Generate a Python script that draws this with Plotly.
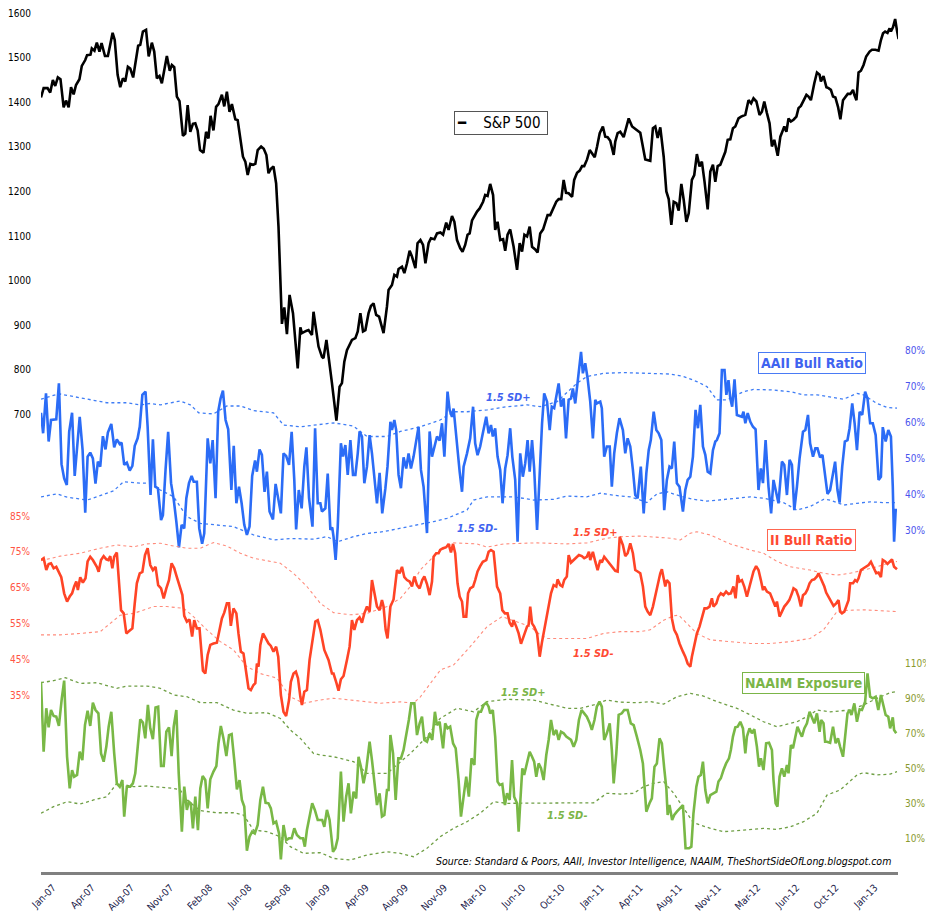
import pandas as pd
import plotly.graph_objects as go

# ---------------- data ----------------
# x offsets are in "picture weeks" (2.633 px each); they are converted
# to calendar dates with the true chart scale (2.609 px per week) in to_dates().
BASE = "2007-01-05"
PICTURE_WEEK_PX = 2.633
TRUE_WEEK_PX = 2.609

SP500 = [(0,1411),(1,1432),(2.5,1432),(3.5,1422),(4.5,1450),(5.4,1437),(6.4,1456),(7.4,1452),(8.6,1389),(9.5,1404),(10.5,1389),(11.4,1434),(12.4,1418),(13.3,1439),(14.6,1452),(15.5,1482),(16.8,1495),(17.5,1506),(18.8,1507),(19.3,1521),(20.3,1516),(21.2,1534),(22.2,1514),(23,1533),(24.3,1504),(25.4,1504),(27.2,1556),(28,1540),(29.1,1462),(30.1,1434),(31.1,1454),(32,1447),(33,1480),(33.9,1476),(35,1456),(35.8,1489),(36.9,1527),(37.7,1529),(38.7,1559),(39.9,1563),(40.9,1503),(42.1,1534),(43,1514),(44,1454),(45,1459),(45.9,1443),(47.2,1491),(47.8,1504),(48.9,1471),(49.7,1484),(50.6,1479),(51.6,1413),(52.6,1403),(53.9,1325),(54.8,1330),(55.7,1394),(56.7,1334),(57.7,1352),(58.6,1353),(59.5,1337),(60.4,1293),(61.7,1287),(62.7,1334),(63.6,1319),(64.4,1370),(65.5,1337),(66.5,1390),(67.4,1396),(68.7,1417),(69.6,1391),(70.6,1424),(71.6,1379),(72.5,1396),(73.8,1362),(74.7,1360),(75.7,1323),(76.7,1278),(77.6,1267),(78.5,1237),(79.5,1262),(80.5,1260),(81.4,1262),(82.3,1293),(83.6,1301),(84.6,1296),(85.6,1282),(86.4,1241),(87.3,1251),(88.3,1256),(89.3,1218),(90.2,1121),(91.5,903),(92.4,940),(93.4,880),(94.4,968),(95.7,927),(96.6,867),(97.5,803),(98.5,895),
         (99.1,882),(100.7,887),(101.6,889),(102.9,878),(103.5,930),(105.4,852),(106.7,829),(107.3,826),(108.4,867),(110.5,770),(112.2,686),(113.4,762),(114.3,770),(115.2,818),(116.2,844),(118.1,867),(119.4,871),(120.3,886),(121.3,927),(122.3,886),(123.2,889),(124.4,927),(125.3,943),(126.3,949),(127.3,923),(128.4,919),(130.1,882),(131.4,942),(132,979),(133.3,990),(134.2,1013),(135.2,1009),(135.8,1026),(137.1,1031),(138,1017),(139,1039),(140,1067),(140.9,1054),(142.2,1028),(143,1084),(144.1,1091),(145.1,1080),(146,1039),(147.2,1084),(148.1,1095),(149.4,1093),(150.4,1106),(151.7,1108),(152.7,1103),(153.9,1130),(154.8,1114),(156.1,1145),(157,1132),(158,1091),(159.2,1073),(160.1,1065),(161.1,1080),(162,1103),(162.8,1106),(163.7,1135),(164.6,1145),(165.6,1155),(166.6,1162),(167.9,1177),(168.7,1192),(169.6,1190),(170.6,1217),(171.7,1192),(172.5,1114),(173.4,1132),(174.4,1091),(175.5,1093),(176.3,1067),(177.2,1103),(178.2,1115),(179.5,1076),(180.8,1024),(181.8,1084),(182.7,1065),(183.6,1103),(184.6,1099),(185.6,1121),(186.5,1076),(187.7,1070),(188.6,1063),(189.6,1106),(190.7,1115),(191.5,1129),(192.4,1147),(193.4,1147),(194.5,1162),(195.7,1177),(196.6,1183),(197.6,1183),(198.5,1226),(199.4,1197),(200.4,1196),(201.7,1188),(202.5,1226),(203.6,1242),(204.6,1247),(205.5,1257),(206.3,1257),(207.4,1272),(208.4,1293),(209.3,1286),(210.3,1277),(211.2,1301),(212.2,1331),(213.4,1346),(214.3,1323),(215.2,1322),(216.2,1314),(217.5,1282),(218.1,1312),(219,1331),(220,1334),
         (221.3,1322),(223.2,1364),(224.5,1346),(227.6,1332),(229.5,1272),(231.4,1269),(232.4,1342),(233.3,1346),(234.2,1320),(235.2,1344),(236.5,1278),(237.5,1200),(238.4,1183),(239.4,1125),(240.3,1177),(241.3,1174),(242.2,1157),(243.2,1217),(244.1,1181),(245.1,1132),(246,1151),(247.2,1226),(248.1,1237),(249.1,1284),(250.1,1256),(251,1267),(252,1222),(253.2,1160),(254.2,1245),(255.2,1260),(256.1,1222),(257,1257),(258,1260),(259,1278),(259.9,1289),(260.8,1316),(261.8,1317),(262.8,1342),(263.7,1346),(264.9,1364),(265.9,1368),(267.5,1372),(268.7,1405),(269.7,1398),(270.6,1409),(271.7,1402),(272.9,1372),(273.8,1379),(274.7,1402),(275.7,1376),(276.7,1353),(277.6,1301),(278.5,1316),(279.8,1280),(280.8,1323),(281.8,1338),(282.3,1346),(283.1,1334),(283.9,1364),(284.8,1357),(285.8,1361),(286.9,1368),(287.7,1387),(288.6,1392),(289.6,1405),(290.7,1417),(291.5,1413),(292.4,1405),(293.7,1443),(294.7,1467),(295.7,1462),(296.2,1447),(297.2,1459),(298.3,1434),(299.1,1432),(300,1428),(300.8,1413),(301.7,1411),(302.7,1390),(303.6,1362),(304.6,1405),(305.5,1413),(306.4,1419),(307.4,1419),(308.4,1428),(308.9,1417),(309.7,1405),(310.5,1467),(311.4,1471),(312.4,1484),(313.4,1503),(314.7,1514),(315.6,1518),(316.9,1518),(318.1,1516),(319,1540),(319.8,1555),(320.6,1559),(321.5,1556),(322.3,1566),(322.8,1559),(323.6,1569),(324.4,1587),(325.1,1561),(325.7,1542)]

AAII = [(0,62.7),(0.8,57.0),(1.9,68.1),(2.9,54.7),(3.8,60.7),(4.8,60.9),(5.8,60.9),(6.8,70.9),(7.8,48.4),(8.8,44.4),(9.8,42.6),(10.7,57.4),(11.8,62.7),(12.8,45.1),(14.7,61.6),(15.8,52.3),(16.8,34.9),(17.7,50.5),(18.7,51.6),(19.7,50.0),(20.7,43.0),(21.6,49.1),(22.5,47.7),(23.5,56.2),(24.5,52.5),(25.4,57.2),(26.7,59.6),(27.8,53.1),(28.8,55.3),(29.9,54.0),(30.6,54.4),(31.6,48.2),(32.6,48.8),(33.7,46.6),(34.7,47.9),(35.6,53.5),(36.7,55.6),(37.5,58.8),(38.5,67.7),(39.7,68.6),(40.5,58.8),(41.6,39.8),(42.5,55.3),(43.4,42.1),(44.4,41.7),(45.6,32.8),(46.3,34.2),(47.3,46.8),(48.3,57.4),(49.4,43.1),(50.4,38.6),(51.4,32.4),(52.4,25.2),(53.4,31.5),(54.4,30.5),(55.2,38.9),(56.2,43.1),(57.2,45.1),(58,43.5),(59.2,43.5),(60.1,30.5),(61.2,26.2),(62,29.1),(63.3,55.6),(64.3,48.6),(65.2,55.1),(66.3,38.9),(67.3,63.0),(68.2,66.7),(69.1,68.9),(70.1,60.7),(71.1,58.1),(72.3,41.2),(73.2,53.5),(74.2,37.5),(75.2,42.1),(76.2,37.5),(77.2,31.5),(78.2,28.7),(79.2,31.0),(80.2,45.1),(81.3,49.4),(82,46.3),(83,52.5),(83.9,51.0),(84.9,40.7),(85.8,46.3),(86.8,35.2),(88.1,33.0),(89.1,42.9),(90.1,38.4),(91.1,34.7),(92.1,51.4),(93.1,50.7),(94.2,48.2),(95.2,57.4),(96.2,44.0),(96.9,30.2),(97.9,41.2),(99,36.1),(100,47.7),(100.8,53.1),(101.8,38.9),(103.1,31.0),(104.1,58.4),(105.1,37.5),(106.1,37.5),
        (106.7,35.2),(108,36.1),(108.9,45.8),(109.9,30.1),(110.6,30.8),(111.1,28.2),(111.9,21.7),(112.7,31.0),(113.9,54.2),(114.7,50.5),(115.6,53.7),(116.5,45.4),(117.5,55.1),(118.5,45.4),(119.4,45.4),(120.3,51.4),(121,57.5),(121.9,56.1),(122.8,43.1),(123.8,47.7),(124.8,56.5),(125.7,51.4),(126.6,44.5),(127.6,37.5),(128.6,46.0),(129.6,34.7),(130.8,41.7),(131.6,47.7),(132.7,60.2),(133.3,57.9),(134.2,60.7),(134.9,57.9),(135.8,45.4),(136.7,41.7),(137.7,50.3),(138.7,47.2),(139.6,51.4),(140.5,47.2),(141.5,50.5),(142.5,54.7),(143.4,58.8),(144.3,46.8),(145.3,42.1),(146.6,29.2),(147.6,57.5),(148.5,50.5),(149.4,53.3),(150.4,56.1),(151.4,55.0),(152.3,59.8),(153.2,50.5),(153.9,61.6),(154.4,68.6),(155.2,63.5),(156.1,61.6),(156.7,63.9),(158,53.3),(159,46.3),(159.9,40.7),(160.5,47.7),(161.8,51.4),(163,55.6),(164.1,64.4),(164.9,54.2),(165.8,50.9),(166.8,53.3),(167.8,57.0),(169.1,61.6),(170,57.0),(170.9,59.3),(171.6,56.1),(172.5,58.4),(173.4,50.5),(174.4,46.8),(175.3,37.5),(176.3,47.2),(177.2,50.9),(178.2,58.4),(179,50.5),(180.1,44.0),(181,26.8),(182,51.4),(183,44.9),(183.9,48.6),(184.8,55.1),(185.6,46.3),(186.5,55.1),(187.3,47.2),(188.4,30.1),(189.4,48.2),(190.3,59.8),(191.1,68.1),(192.2,65.8),(193.2,57.9),(194,64.4),(194.9,64.0),(195.7,67.2),(196.6,70.9),(197.5,64.4),(198.5,66.7),(199.4,55.6),(200.4,66.3),(201.3,66.7),(202,69.5),(202.9,65.3),(203.5,69.1),(204.2,72.8),(205.1,79.7),(205.8,73.7),(206.7,76.5),(207.6,72.3),(208.6,65.8),(209.6,55.6),(210.5,66.3),(211.1,65.3),(212.4,65.8),(213,64.0),(213.9,50.5),(214.9,53.3),(216,53.3),(216.8,42.1),(217.7,51.4),(218.7,57.0),(219.7,61.2),
        (221,57.9),(221.9,51.4),(222.8,55.6),(223.8,53.3),(224.8,46.8),(225.7,39.8),(226.6,38.9),(227.8,47.7),(228.9,34.7),(229.9,45.8),(230.8,52.3),(231.6,55.1),(232.7,63.0),(233.7,57.9),(234.6,57.0),(235.6,55.1),(236.7,35.6),(237.7,44.0),(238.7,47.7),(239.6,47.2),(240.5,54.7),(241.5,43.1),(242.5,42.1),(243.8,35.2),(244.7,41.2),(245.6,44.0),(246.6,44.9),(247.6,50.5),(248.6,63.5),(249.5,58.4),(250.4,64.9),(251.4,53.3),(252.3,51.0),(253.2,46.3),(254.2,45.8),(255.2,52.3),(256.1,54.7),(256.7,55.1),(257.7,57.0),(258.6,74.6),(259.6,74.6),(260.3,67.7),(261.1,71.8),(261.8,66.7),(262.5,64.4),(263.4,72.0),(264.3,62.1),(265.3,61.8),(266.2,61.6),(266.8,63.0),(267.5,59.8),(268.4,62.6),(269.4,60.2),(270.4,58.8),(271.4,58.1),(272.5,41.2),(273.4,47.2),(274.2,43.1),(275.2,55.1),(276.3,42.1),(277.3,34.7),(278.2,44.0),(279.2,40.3),(280.1,37.5),(281.4,49.1),(282.3,48.2),(283.3,39.8),(284.3,49.6),(285.2,48.2),(286.1,35.6),(287.1,42.1),(288.1,50.0),(289.4,57.4),(290.3,57.9),(291.3,62.1),(292.1,54.2),(293.2,50.5),(294.1,52.8),(294.9,52.8),(295.9,50.3),(296.8,51.0),(297.8,45.8),(298.7,40.1),(299.7,41.2),(300.8,45.8),(301.6,49.1),(302.5,41.2),(303.3,37.7),(304.3,47.7),(305.3,54.7),(306.3,55.1),(307.1,58.4),(308.1,65.3),(309,59.8),(309.9,52.3),(310.9,63.0),(311.9,62.1),(313,68.6),(313.9,66.7),(314.9,59.8),(315.9,59.8),(317,56.5),(318.1,44.0),(319,44.9),(319.7,58.7),(320.8,54.7),(321.8,57.9),(322.8,56.1),(323.5,42.1),(324,26.8),(324.6,35.6),(325.1,35.6)]

AAII_UPPER = [(0,66.5),(6.7,68.0),(11.1,67.4),(17.5,66.5),(25,65.5),(32.6,65.5),(37.7,64.9),(41.5,65.3),(45.3,64.9),(52.9,66.0),(56.7,64.9),(59.9,62.7),(65.5,62.4),(70.6,64.6),(75.7,64.6),(80.7,63.3),(88.3,62.7),(92.1,59.3),(98.5,58.8),(111.1,59.9),(118.7,59.0),(121.3,57.5),(123.8,56.1),(131.4,56.1),(136.5,57.5),(144.1,58.8),(151.6,60.7),(156.7,63.0),(161.8,63.0),(169.4,63.5),(177,64.4),(184.6,64.9),(189.6,64.4),(196,65.8),(203.5,70.9),(207.3,72.8),(213.7,73.7),(221.3,73.9),(228.9,73.7),(233.9,73.7),(239,73.5),(244.1,72.8),(249.1,71.4),(252.9,70.0),(256.7,66.3),(260.5,66.3),(266.8,68.6),(270.6,69.2),(277,69.1),(284.6,68.6),(289.6,67.7),(294.7,67.7),(299.7,67.2),(304.8,66.5),(309.9,68.1),(312.4,67.7),(317.5,65.3),(321.3,64.2),(325.1,64.0)]
AAII_LOWER = [(0,39.3),(6.1,40.1),(9.9,39.2),(17.5,38.4),(21.3,39.3),(27.6,41.0),(31.4,43.5),(37.7,43.1),(41.5,43.1),(45.3,41.2),(50.4,39.3),(55.4,33.8),(60.5,31.9),(65.5,31.5),(73.1,31.0),(80.7,28.7),(88.3,27.3),(94.7,27.7),(103.5,27.5),(108.6,28.2),(112.7,26.8),(118.7,28.2),(123.8,29.1),(130.1,29.6),(136.5,30.5),(144.1,31.5),(149.1,32.4),(154.2,33.3),(161.8,35.6),(164.3,38.4),(169.4,39.3),(179.5,39.3),(187.1,38.4),(194.7,38.6),(199.7,39.5),(207.3,39.3),(212.4,40.3),(220,39.5),(223.8,39.3),(227.6,38.4),(230.1,37.7),(233.9,40.1),(237.7,40.7),(242.8,39.5),(247.8,38.6),(252.9,38.1),(258,38.4),(264.3,38.9),(269.4,39.3),(274.4,38.9),(282,37.7),(287.1,35.6),(292.1,36.6),(297.2,38.6),(299.7,38.4),(304.8,37.0),(309.9,37.5),(314.9,37.9),(320,37.7),(325.1,37.7)]

II = [(0,72.7),(1,73.2),(2,69.9),(2.9,71.6),(3.8,71.8),(4.8,70.4),(5.8,70.8),(6.7,69.4),(7.7,67.9),(8.8,63.4),(9.9,61.1),(10.9,62.5),(11.8,63.4),(12.6,65.3),(13.4,66.7),(14,64.3),(14.9,67.9),(15.9,66.4),(16.9,67.6),(17.7,72.3),(18.7,73.6),(19.7,72.7),(21.2,70.8),(21.9,69.4),(22.8,72.7),(23.8,73.8),(24.8,72.9),(25.6,72.7),(26.3,73.8),(27.1,70.4),(27.8,73.6),(28.8,74.8),(29.5,67.1),(30.4,58.7),(31.4,57.8),(32.4,52.2),(33.7,53.0),(34.7,53.6),(35.6,60.6),(36.4,66.2),(37.5,69.0),(38.5,69.4),(39.5,74.1),(40.5,76.0),(41.5,71.3),(42.5,69.9),(43.5,70.8),(44.5,65.7),(45.6,64.8),(46.6,62.0),(47.6,64.8),(48.6,67.1),(49.6,71.8),(50.6,70.4),(51.6,67.9),(52.6,65.3),(53.7,62.9),(54.4,57.1),(55.4,55.5),(56.4,56.1),(57.4,51.3),(58.2,55.9),(59.2,53.6),(60.2,53.6),(61.5,41.8),(62.4,41.0),(63.3,46.2),(64.3,49.0),(65.5,49.4),(66.8,49.6),(67.8,53.2),(68.7,56.4),(69.6,58.0),(70.6,60.6),(71.4,60.6),(72.1,54.3),(73.1,59.2),(74.2,57.8),(75,52.2),(75.9,47.1),(76.9,46.6),(77.9,41.5),(78.8,36.9),(79.7,36.4),(80.7,37.8),(81.4,38.3),(82,43.8),(82.6,42.9),(83.3,49.0),(84.3,52.2),(85.3,50.8),(86.4,49.4),(87.3,48.7),(88.3,47.1),(89.3,48.5),(90.1,45.7),(91.1,35.0),(92.1,30.3),(93.1,29.1),(94.2,33.6),(94.9,38.7),(95.9,41.0),(96.8,41.5),(97.6,39.7),(98.5,34.5),(99.1,32.2),(100,35.9),(101,36.4),(102,44.8),(102.9,49.0),(104.2,55.5),(105.1,55.9),(106.1,53.2),
      (107.6,47.6),(109.2,44.8),(110.5,41.0),(111.1,41.0),(112.2,38.4),(113,36.2),(113.9,39.4),(114.9,40.3),(116.2,44.8),(117.2,48.5),(118.1,55.9),(119,53.2),(120,55.9),(121,56.7),(121.9,55.2),(122.8,57.8),(123.8,59.7),(124.8,58.3),(125.7,67.1),(126.6,63.9),(127.6,59.7),(128.6,58.7),(129.5,61.5),(130.1,59.7),(130.9,53.2),(131.6,50.8),(132.7,59.7),(133.9,61.7),(135.2,69.9),(136.2,69.0),(137.1,70.8),(138,67.9),(139,67.1),(140,66.7),(140.9,65.3),(141.8,68.1),(142.8,65.7),(143.8,64.8),(144.8,67.1),(145.6,68.1),(146.6,66.0),(147.6,62.9),(148.5,66.7),(149.1,73.6),(150.1,74.6),(151,74.6),(151.6,75.5),(152.7,76.0),(153.9,76.3),(154.8,77.2),(155.7,74.8),(156.5,77.2),(157.3,74.6),(158.2,66.2),(159,62.5),(159.9,61.1),(160.5,56.9),(161.5,56.9),(162.2,63.4),(163,64.8),(164.1,65.3),(164.9,67.1),(165.8,69.5),(166.8,71.0),(167.8,72.2),(169.1,72.7),(170,75.0),(170.9,75.5),(171.9,75.0),(173.2,65.3),(174.4,63.4),(175.2,58.7),(176.2,57.8),(177.2,57.8),(178,55.2),(178.9,54.1),(179.5,55.9),(180.5,54.1),(181.4,52.2),(182.3,49.3),(183,50.8),(183.9,52.2),(184.6,54.1),(185.2,54.6),(185.8,59.7),(186.5,55.0),(187.3,54.1),(188.4,52.2),(189.4,45.7),(190.3,49.9),(191.1,53.2),(192.2,57.8),(192.9,60.6),(193.7,63.4),(194.7,65.7),(195.7,65.3),(196.2,67.3),(197.2,65.7),(198,65.3),(198.7,67.1),(199.7,68.1),(200.4,74.1),(201.3,72.0),(202.3,72.7),(203.3,73.2),(204.3,74.1),(205.4,73.8),(206.3,73.2),(207.3,73.6),(208.1,75.0),(208.6,72.7),(209.6,75.0),(210.5,72.3),(211.4,69.9),(212.4,72.7),(213,72.0),(213.9,73.6),(214.9,72.7),(216,71.6),(217.2,70.4),(218.1,69.7),(219,69.5),(219.8,79.2),
      (221,76.9),(221.9,73.8),(222.8,74.6),(223.8,77.4),(224.8,74.6),(225.7,69.9),(226.6,69.5),(227.6,69.0),(228.6,65.3),(229.5,59.7),(230.4,58.3),(231.4,57.3),(232.4,59.7),(233.3,62.5),(234.2,66.2),(235.2,69.0),(235.8,70.1),(236.5,67.1),(237.1,65.3),(237.7,67.1),(238.7,66.2),(239.6,56.4),(240.5,53.2),(241.5,51.8),(242.5,49.4),(243.8,47.1),(244.7,45.7),(245.6,43.8),(246.6,42.9),(247.2,45.7),(248.1,49.0),(249.1,52.2),(250.1,54.1),(251,56.9),(252,59.2),(252.9,59.2),(253.9,59.7),(254.8,62.0),(255.4,59.7),(256.5,60.6),(257.3,62.5),(258.2,63.4),(259.2,62.9),(260.2,63.9),(261.1,63.2),(262,63.4),(263,65.3),(263.8,62.0),(264.6,68.5),(265.3,66.7),(266.2,67.1),(267.1,65.3),(268.1,62.5),(269.1,65.3),(270,68.1),(270.6,69.5),(271.6,71.0),(272.5,69.9),(273.4,67.1),(274.2,64.3),(274.7,65.3),(275.7,63.9),(276.9,63.4),(278,61.4),(278.9,59.7),(279.5,61.1),(280.5,56.9),(281.4,58.3),(282.3,59.7),(283.3,60.6),(284.2,61.5),(285.2,63.4),(285.8,64.8),(286.8,64.3),(287.7,62.5),(288.6,59.7),(289.4,62.9),(290.3,63.4),(291.1,64.5),(291.9,66.2),(292.8,67.1),(293.7,67.3),(294.7,68.1),(295.3,69.0),(295.9,68.1),(296.6,66.9),(297.5,65.3),(298.2,63.6),(299.1,62.5),(300,61.1),(301,59.9),(302,60.6),(302.9,61.5),(303.5,58.3),(304.2,57.8),(305.1,58.3),(305.8,59.7),(306.7,61.5),(307.3,66.2),(308.4,66.2),(309.2,67.1),(309.9,66.7),(310.5,67.6),(311.4,69.9),(312.4,70.4),(313.4,70.8),(314.3,71.3),(315.2,72.2),(316.2,70.8),(317.2,69.0),(318.1,69.2),(319,67.9),(319.7,72.7),(320.6,72.3),(321.5,71.6),(322.3,72.3),(323.2,72.9),(324,70.8),(325.1,70.1)]

II_UPPER = [(0,72.5),(7.3,73.8),(14.9,74.6),(22.5,76.0),(28.8,76.9),(35.2,76.4),(40.2,77.2),(45.3,77.4),(50.4,76.6),(55.4,76.0),(60.5,76.0),(65.5,77.6),(70.6,76.6),(75.7,74.6),(80.7,73.2),(85.8,72.5),(90.9,71.8),(95.9,69.0),(101,65.3),(106.1,60.6),(111.1,58.0),(117.5,57.4),(123.8,57.8),(131.4,59.7),(136.5,62.0),(140.5,65.5),(144.1,70.0),(150.4,74.6),(156.7,77.5),(165.6,77.2),(169.4,76.3),(175.7,77.2),(188.4,77.5),(199.8,77.2),(207.4,77.5),(215,78.8),(220,79.2),(227.6,79.4),(231.4,79.2),(239,78.8),(242.8,78.3),(246.6,80.2),(249.1,80.6),(254.2,79.7),(261.8,77.2),(269.4,75.5),(274.4,74.6),(279.5,72.3),(284.6,70.8),(292.1,69.9),(297.2,69.0),(302.3,68.5),(307.3,69.0),(312.4,69.9),(317.5,70.8),(322.5,72.0),(325.1,72.3)]
II_LOWER = [(0,51.8),(7.3,51.8),(14.9,52.2),(22.5,52.7),(30.1,57.3),(35.2,57.8),(42.8,59.7),(47.8,59.7),(54.2,59.2),(57.9,56.9),(63,53.2),(68.1,49.9),(73.1,47.6),(78.2,42.9),(83.3,41.0),(89.6,39.7),(94.7,34.5),(99.7,32.7),(106.1,33.6),(111.1,34.1),(123.8,33.1),(128.9,32.7),(136.5,33.1),(141.5,32.7),(144.1,34.5),(151.7,42.0),(156.7,43.4),(163,48.5),(169.4,54.1),(175.1,56.9),(178.9,55.9),(185.8,54.1),(189.6,51.8),(192.2,50.8),(197.2,50.8),(207.4,50.8),(213.7,52.2),(220,52.7),(227.6,52.7),(231.4,53.2),(236.5,55.9),(240.3,57.1),(242.2,57.3),(244.1,55.9),(249.1,52.2),(254.2,50.4),(261.8,49.9),(269.4,49.4),(277,49.4),(284.6,49.9),(292.1,50.8),(297.2,53.2),(302.3,58.3),(304.8,58.6),(312.4,58.8),(320,58.6),(325.1,58.3)]

NAAIM = [(0,99.5),(1,59.5),(2,84.3),(2.9,73.4),(3.8,83.3),(4.8,79.9),(5.8,79.5),(6.8,74.2),(7.9,90.0),(8.8,100.1),(9.9,56.6),(10.9,38.5),(11.8,49.0),(12.6,45.2),(13.7,46.2),(14.7,59.5),(15.7,54.7),(16.7,74.7),(17.7,82.9),(18.7,74.2),(19.7,87.5),(20.7,83.3),(21.8,81.4),(22.8,58.5),(23.8,53.8),(24.8,62.3),(25.7,73.8),(26.7,82.3),(27.8,58.5),(28.8,41.4),(29.9,39.5),(30.9,43.3),(31.6,22.4),(32.6,39.5),(33.9,39.5),(34.9,41.4),(35.8,47.1),(36.7,62.3),(37.7,78.0),(38.7,76.1),(39.6,67.1),(40.6,86.2),(41.5,72.8),(42.5,66.6),(43.5,84.8),(44.5,85.2),(45.6,51.3),(46.6,51.3),(47.6,70.9),(48.6,73.4),(49.6,57.0),(50.4,73.8),(51.4,83.3),(52.3,47.1),(53.5,13.8),(54.4,39.5),(55.4,26.2),(56.2,30.9),(56.9,30.0),(57.7,15.7),(58.6,33.8),(59.6,14.7),(60.5,38.5),(61.4,45.6),(62.4,43.3),(63.3,27.1),(64.3,43.7),(65.5,48.1),(66.6,51.3),(67.4,64.3),(68.3,74.2),(69.3,67.1),(70.4,57.0),(71.4,69.0),(72.4,69.6),(73.4,54.7),(74.4,38.0),(75.4,43.3),(76.3,31.9),(77.2,28.1),(78.2,2.9),(79.2,10.9),(80.2,13.8),(81.2,12.8),(82.3,17.6),(83.3,31.9),(84.3,39.5),(85.3,30.3),(86.4,30.0),(87.3,27.1),(88.3,18.5),(89.3,19.5),(90.4,12.8),(91.1,-2.0),(92.1,17.6),(93.1,9.0),(94.2,10.0),(95.2,10.0),(96.2,15.7),(97.2,11.9),(98.5,10.0),(99.5,10.0),(100.2,5.2),(101,14.7),(102,23.3),(103,30.0),(104,26.2),(105.1,20.5),(106.1,20.5),
         (106.8,20.5),(107.6,16.6),(108.6,26.2),(109.6,20.5),(110.9,2.3),(111.8,4.3),(112.7,10.0),(113.9,48.1),(114.9,19.5),(115.9,33.8),(116.8,41.4),(117.7,24.3),(118.7,36.6),(119.7,32.8),(120.6,56.6),(121.5,50.9),(122.5,41.4),(123.5,49.0),(124.8,65.2),(125.7,54.7),(126.6,40.5),(127.6,29.0),(128.6,35.7),(129.5,22.4),(130.4,23.3),(131.4,37.6),(132,37.6),(132.7,69.0),(133.7,58.5),(134.7,31.9),(135.7,55.7),(136.7,55.7),(137.7,60.5),(138.7,68.1),(139.7,77.6),(140.6,87.1),(141.8,87.1),(142.8,69.0),(143.8,75.7),(144.7,79.5),(145.6,66.2),(146.6,65.2),(147.6,70.0),(148.6,66.2),(149.6,82.3),(150.4,74.7),(151.4,76.6),(152.7,61.4),(153.5,75.7),(154.4,72.8),(155.4,73.8),(156.5,64.3),(157.5,61.4),(158.6,43.3),(159.5,22.4),(160.5,33.8),(161.5,45.2),(162.5,33.8),(163.5,55.7),(164.6,51.9),(165.3,77.6),(166.2,82.3),(167.1,82.3),(168.1,86.2),(169.1,87.5),(170,85.2),(170.6,81.4),(171.6,83.3),(172.5,68.1),(173.4,42.4),(174.2,40.5),(175.2,41.0),(176.2,29.0),(177,35.7),(178,31.9),(178.9,54.7),(179.7,33.8),(180.8,30.0),(181.4,13.8),(182,30.0),(182.8,50.0),(183.5,46.2),(184.6,52.8),(185.6,59.5),(186.5,56.6),(187.3,53.8),(188.1,45.2),(189,52.8),(189.9,50.0),(190.9,43.3),(191.9,57.6),(192.8,66.2),(193.7,77.6),(194.7,69.0),(195.7,71.9),(196.6,66.2),(197.5,70.9),(198.5,70.0),(199.5,68.1),(200.4,67.1),(201.3,66.2),(202.3,62.3),(203.3,66.2),(204.3,77.6),(205.3,83.3),(206.3,81.4),(207.3,79.5),(208.4,75.7),(209.2,71.9),(210.2,77.6),(211.1,85.2),(212.1,88.1),(213,85.2),(213.9,66.2),(214.9,70.0),(216,75.7),(216.8,60.5),(217.5,41.4),(218.5,58.5),(219.4,80.5),
         (220.6,81.4),(221.5,83.3),(222.8,83.3),(224,75.7),(225.1,74.7),(226.3,68.1),(227.6,60.5),(228.6,52.8),(229.9,25.2),(231.1,30.0),(232,32.8),(233,50.9),(233.9,52.8),(234.9,67.1),(235.8,64.3),(236.7,50.0),(237.5,38.5),(238,23.3),(238.7,29.0),(239.7,20.5),(240.5,23.3),(241.5,25.2),(242.8,27.1),(243.8,29.0),(244.8,4.3),(246.1,4.3),(247,5.2),(247.8,24.3),(248.9,39.5),(249.7,45.2),(250.6,46.2),(251.4,53.8),(252.3,37.6),(253.2,30.0),(254.2,34.7),(255.4,35.7),(256.5,36.6),(257.3,42.4),(258.2,44.3),(259.2,49.0),(260.2,52.8),(261.3,55.7),(262,60.5),(262.8,68.1),(263.7,73.4),(264.6,73.8),(265.6,76.6),(266.6,72.8),(267.5,58.5),(268.1,68.1),(269.1,72.8),(270,70.0),(270.9,72.3),(271.9,62.3),(272.7,50.9),(273.4,55.7),(274.4,49.0),(275.4,64.3),(276.5,64.6),(277.6,60.5),(278.2,43.3),(279,30.0),(279.7,28.1),(280.5,45.2),(281.4,50.0),(282.3,45.2),(283.3,51.9),(283.9,47.1),(284.8,63.3),(285.6,61.4),(286.5,69.0),(287.3,73.8),(288.1,70.9),(289,68.1),(289.9,72.8),(290.9,75.7),(291.9,82.3),(292.8,78.5),(293.7,75.7),(294.7,81.4),(295.7,70.9),(296.3,77.6),(297.2,75.7),(297.8,65.2),(298.5,65.2),(299.7,64.6),(300.8,73.8),(301.8,64.3),(302.7,67.1),(303.5,62.3),(304.6,56.6),(305.4,68.1),(306.3,81.4),(307.1,83.3),(307.8,80.5),(308.9,87.1),(309.9,76.6),(310.9,83.7),(311.8,83.3),(313,88.1),(313.9,104.3),(314.9,90.9),(315.9,90.0),(317,90.9),(318,83.3),(319,91.9),(319.7,88.1),(320.8,80.5),(321.8,79.5),(322.5,72.8),(323.5,79.1),(324,71.9),(324.8,70.0)]

NAAIM_UPPER = [(0,98.9),(4.8,100.1),(9.2,101.8),(14.9,98.5),(21.2,98.9),(28.8,95.7),(32.6,97.0),(40.2,97.0),(45.3,95.7),(50.4,91.9),(55.4,90.9),(60.5,87.5),(66.8,87.5),(73.1,83.3),(78.2,81.4),(85.8,81.8),(90.9,78.5),(94.7,71.9),(98.5,67.1),(103.5,58.5),(106.1,57.6),(111.1,56.6),(118.7,53.8),(123.8,47.1),(131.4,47.1),(135.2,51.9),(140.3,58.5),(146.6,68.1),(151.6,78.5),(158,84.3),(164.3,82.3),(169.4,88.1),(177,89.4),(187.1,89.0),(194.7,86.2),(199.7,84.3),(204.8,84.3),(209.9,86.2),(214.9,89.0),(220,87.8),(226.3,87.5),(231.4,88.1),(236.5,86.7),(241.5,90.9),(246.6,92.8),(251.6,91.3),(256.7,88.1),(264.3,84.3),(269.4,80.5),(274.4,76.6),(279.5,73.8),(287.1,76.6),(292.1,80.5),(294.7,83.3),(299.7,82.3),(307.3,83.3),(312.4,86.2),(317.5,90.0),(322.5,93.2),(325.1,93.8)]
NAAIM_LOWER = [(0,24.3),(4.8,28.1),(9.9,30.9),(14.9,29.6),(20,31.9),(25,33.8),(28.8,41.4),(35.2,39.5),(40.2,39.9),(45.3,39.1),(50.4,38.5),(52.9,37.6),(55.4,31.9),(60.5,25.8),(66.8,24.6),(73.1,24.6),(76.9,23.3),(80.7,14.7),(85.8,13.8),(90.9,10.9),(94.7,5.2),(99.7,1.4),(106.1,1.8),(111.1,-1.5),(117.5,-2.4),(123.8,0.5),(131.4,2.3),(136.5,1.4),(141.5,-0.5),(146.6,4.3),(151.6,10.9),(156.7,15.7),(161.8,19.5),(166.8,24.3),(171.9,30.9),(177,30.0),(182,30.0),(189.6,30.3),(199.7,30.0),(209.9,30.3),(214.9,35.7),(220,35.3),(225.1,35.7),(228.9,39.5),(232.7,41.4),(236.5,42.4),(240.3,35.7),(244.1,27.1),(247.8,18.9),(254.2,15.7),(259.2,13.8),(266.8,14.7),(274.4,15.7),(279.5,15.1),(284.6,16.6),(289.6,19.5),(294.7,24.3),(298.5,34.7),(303.5,37.6),(309.9,46.2),(312.4,47.5),(317.5,46.2),(322.5,46.7),(325.1,48.1)]

X_TICK_LABELS = ["Jan-07","Apr-07","Aug-07","Nov-07","Feb-08","Jun-08","Sep-08","Jan-09","Apr-09","Aug-09","Nov-09",
                 "Mar-10","Jun-10","Oct-10","Jan-11","Apr-11","Aug-11","Nov-11","Mar-12","Jun-12","Oct-12","Jan-13"]
TICK_EVERY_WEEKS = 15
SP_TICKS = [700, 800, 900, 1000, 1100, 1200, 1300, 1400, 1500, 1600]
AAII_TICKS = [30, 40, 50, 60, 70, 80]
II_TICKS = [35, 45, 55, 65, 75, 85]
NAAIM_TICKS = [10, 30, 50, 70, 90, 110]

# ---------------- helpers ----------------
base = pd.Timestamp(BASE)
SCALE = PICTURE_WEEK_PX / TRUE_WEEK_PX

def to_dates(picture_weeks):
    return [base + pd.Timedelta(days=7 * w * SCALE) for w in picture_weeks]

def true_dates(weeks):
    return [base + pd.Timedelta(days=7 * w) for w in weeks]

def split(pairs):
    return to_dates([p[0] for p in pairs]), [p[1] for p in pairs]

BLUE = "#2B6CF6"
RED = "#FF4426"
GREEN = "#79B846"
FONT = "DejaVu Sans Condensed, DejaVu Sans, sans-serif"

fig = go.Figure()

def add_line(pairs, axis, color, width, dash=None):
    x, y = split(pairs)
    fig.add_trace(go.Scatter(x=x, y=y, yaxis=axis, mode="lines",
                             line=dict(color=color, width=width, dash=dash),
                             showlegend=False, hoverinfo="skip"))

add_line(AAII_UPPER, "y2", "#3F7DF5", 1.3, "dot")
add_line(AAII_LOWER, "y2", "#3F7DF5", 1.3, "dot")
add_line(II_UPPER, "y3", "#FF8C7C", 1.1, "dot")
add_line(II_LOWER, "y3", "#FF8C7C", 1.1, "dot")
add_line(NAAIM_UPPER, "y4", "#6F9F45", 1.3, "dot")
add_line(NAAIM_LOWER, "y4", "#6F9F45", 1.3, "dot")
add_line(NAAIM, "y4", GREEN, 2.6)
add_line(II, "y3", RED, 2.6)
add_line(AAII, "y2", BLUE, 2.6)
add_line(SP500, "y", "#000000", 2.6)

# ---------------- layout (the page body adds an 8 px offset) ----------------
OFF = 8
W, H = 934 - OFF, 914 - OFF
PL, PR, PT, PB = 41, 898, 8, 872          # plot box in page pixels
L, R, T, B = PL - OFF, (W + OFF) - PR, PT - OFF, (H + OFF) - PB

def rng(v_ref, p_ref, px_per_unit):
    lo = v_ref - (PB - p_ref) / px_per_unit
    hi = v_ref + (p_ref - PT) / px_per_unit
    return [lo, hi]

# rotated labels are centred on their tick (Excel style): shift anchor by ~12 px
label_shift_weeks = 12 / TRUE_WEEK_PX
tick_pos = true_dates([TICK_EVERY_WEEKS * i + label_shift_weeks for i in range(len(X_TICK_LABELS))])
x_range = true_dates([0, (PR - PL) / TRUE_WEEK_PX])

yaxis_common = dict(showgrid=False, zeroline=False, showline=False, ticks="",
                    automargin=False, ticklabeloverflow="allow")

fig.update_layout(
    width=W, height=H,
    margin=dict(l=L, r=R, t=T, b=B, autoexpand=False),
    plot_bgcolor="white", paper_bgcolor="white",
    font=dict(family=FONT, size=10, color="#000"),
    showlegend=False,
    xaxis=dict(range=x_range, tickvals=tick_pos, ticktext=X_TICK_LABELS,
               tickangle=-45, showgrid=False, zeroline=False, showline=True,
               linecolor="#808080", linewidth=3, ticks="", automargin=False,
               ticklabelstandoff=3, ticklabeloverflow="allow",
               tickfont=dict(family=FONT, size=10, color="#1b1b4a")),
    yaxis=dict(range=rng(700, 414.3, 0.4456), tickvals=SP_TICKS,
               ticktext=[str(t) for t in SP_TICKS], ticklabelstandoff=9,
               tickfont=dict(family=FONT, size=10, color="#000"), **yaxis_common),
    yaxis2=dict(range=rng(80, 350.7, 3.59), tickvals=AAII_TICKS,
                ticktext=[f"{t}%" for t in AAII_TICKS], overlaying="y", side="right",
                anchor="x", ticklabelstandoff=6,
                tickfont=dict(family=FONT, size=10, color="#4A55EE"), **yaxis_common),
    yaxis3=dict(range=rng(85, 516.0, 3.58), tickvals=II_TICKS,
                ticktext=[f"{t}%" for t in II_TICKS], overlaying="y", side="left",
                anchor="x", ticklabelstandoff=10,
                tickfont=dict(family=FONT, size=10, color="#FF5544"), **yaxis_common),
    yaxis4=dict(range=rng(110, 663.3, 1.75), tickvals=NAAIM_TICKS,
                ticktext=[f"{t}%" for t in NAAIM_TICKS], overlaying="y", side="right",
                anchor="x", ticklabelstandoff=6,
                tickfont=dict(family=FONT, size=10, color="#8A9A2E"), **yaxis_common),
)

def px_x(px):
    return (px - PL) / (PR - PL)

def px_y(py):
    return (PB - py) / (PB - PT)

def boxed(text, cx, cy, color, border, size=14):
    fig.add_annotation(x=px_x(cx), y=px_y(cy), xref="paper", yref="paper",
                       text=text, showarrow=False, xanchor="center", yanchor="middle",
                       font=dict(family=FONT, size=size, color=color),
                       bordercolor=border, borderwidth=1, borderpad=2, bgcolor="white")

boxed("<b>━</b>    S&amp;P 500 ", 500.5, 123, "#000", "#555", 15)
boxed("<b>AAII Bull Ratio</b>", 811.5, 363, "#3F63F0", "#4A7BF5")
boxed("<b>II Bull Ratio</b>", 811.5, 539.5, "#FF4A33", "#FF6650")
boxed("<b>NAAIM Exposure</b>", 803, 683, "#7BB548", "#7BB548")

def sd_label(text, week, val, axis, color):
    fig.add_annotation(x=to_dates([week])[0], y=val, xref="x", yref=axis, text=f"<b><i>{text}</i></b>",
                       showarrow=False, font=dict(family=FONT, size=11, color=color))

sd_label("1.5 SD+", 177.5, 67.1, "y2", "#3F63F0")
sd_label("1.5 SD-", 165.7, 30.6, "y2", "#3F63F0")
sd_label("1.5 SD+", 210.5, 80.3, "y3", "#FF4A33")
sd_label("1.5 SD-", 209.8, 46.7, "y3", "#FF4A33")
sd_label("1.5 SD+", 183.2, 93.6, "y4", "#7BB548")
sd_label("1.5 SD-", 199.9, 23.3, "y4", "#7BB548")

fig.add_annotation(x=px_x(893), y=px_y(861), xref="paper", yref="paper",
                   text="<i>Source: Standard &amp; Poors, AAII, Investor Intelligence, NAAIM, TheShortSideOfLong.blogspot.com</i>",
                   showarrow=False, xanchor="right", yanchor="middle",
                   font=dict(family=FONT, size=10.5, color="#000"))

fig.write_html("out.html")
